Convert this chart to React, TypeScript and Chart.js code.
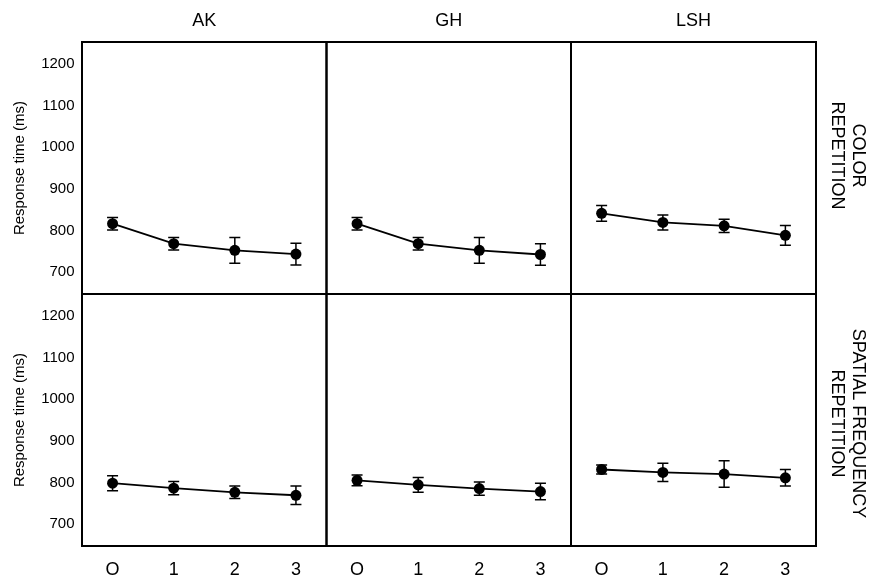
import React, { useEffect, useRef } from 'react';
import { Chart, registerables } from 'chart.js';

Chart.register(...registerables);

// ---------- data ----------
const CONDITIONS = ['O', '1', '2', '3'];
const SUBJECTS = ['AK', 'GH', 'LSH'];
const ROW_TITLES = [
  ['COLOR', 'REPETITION'],
  ['SPATIAL FREQUENCY', 'REPETITION'],
];
const Y_TICKS = [700, 800, 900, 1000, 1100, 1200];
const Y_TITLE = 'Response time (ms)';

const AK_COLOR_MEAN = [816, 768, 752, 743];
const AK_COLOR_ERR = [15, 15, 31, 26];
const GH_COLOR_MEAN = [816, 768, 752, 742];
const GH_COLOR_ERR = [15, 15, 31, 26];
const LSH_COLOR_MEAN = [841, 819, 811, 788];
const LSH_COLOR_ERR = [19, 18, 16, 24];

const AK_SF_MEAN = [798, 786, 776, 769];
const AK_SF_ERR = [18, 16, 15, 22];
const GH_SF_MEAN = [805, 794, 785, 778];
const GH_SF_ERR = [13, 18, 16, 20];
const LSH_SF_MEAN = [831, 824, 820, 811];
const LSH_SF_ERR = [11, 22, 32, 20];

const MEANS = [
  [AK_COLOR_MEAN, GH_COLOR_MEAN, LSH_COLOR_MEAN],
  [AK_SF_MEAN, GH_SF_MEAN, LSH_SF_MEAN],
];
const ERRS = [
  [AK_COLOR_ERR, GH_COLOR_ERR, LSH_COLOR_ERR],
  [AK_SF_ERR, GH_SF_ERR, LSH_SF_ERR],
];

// ---------- layout / style ----------
const W = 869;
const H = 576;
const COL_X = [82, 326.5, 571, 816];
const ROW_Y = [42, 294, 546];
const Y_MIN = 647;
const Y_MAX = 1253;
const FONT = "'Liberation Sans', Arial, Helvetica, sans-serif";
const ROW_LABEL_SHIFT = [-12.5, 3.5];

function buildConfig(r: number, c: number): any {
  const mean = MEANS[r][c];
  const err = ERRS[r][c];
  const isLeft = c === 0;
  const isTop = r === 0;
  const isBottom = r === 1;
  const isRight = c === 2;

  const panelPlugin = {
    id: 'panelDecor' + r + c,
    beforeDatasetsDraw(chart: any) {
      const { ctx, scales } = chart;
      const xs = scales.x;
      const ys = scales.y;
      ctx.save();
      ctx.strokeStyle = '#000';
      ctx.lineWidth = 1.5;
      mean.forEach((m: number, i: number) => {
        const px = xs.getPixelForValue(i);
        const top = ys.getPixelForValue(m + err[i]);
        const bot = ys.getPixelForValue(m - err[i]);
        ctx.beginPath();
        ctx.moveTo(px, top);
        ctx.lineTo(px, bot);
        ctx.moveTo(px - 5.5, top);
        ctx.lineTo(px + 5.5, top);
        ctx.moveTo(px - 5.5, bot);
        ctx.lineTo(px + 5.5, bot);
        ctx.stroke();
      });
      ctx.restore();
    },
    afterDraw(chart: any) {
      const { ctx, chartArea: a } = chart;
      ctx.save();
      ctx.strokeStyle = '#000';
      ctx.lineWidth = 2;
      ctx.strokeRect(a.left, a.top, a.right - a.left, a.bottom - a.top);
      if (isRight) {
        ctx.fillStyle = '#000';
        ctx.font = `18px ${FONT}`;
        ctx.textAlign = 'center';
        ctx.textBaseline = 'middle';
        const cy = (a.top + a.bottom) / 2 + ROW_LABEL_SHIFT[r];
        ROW_TITLES[r].forEach((t, i) => {
          ctx.save();
          ctx.translate(a.right + 41.7 - i * 21, cy);
          ctx.rotate(Math.PI / 2);
          ctx.fillText(t, 0, 0);
          ctx.restore();
        });
      }
      ctx.restore();
    },
  };

  const scales: any = {
    x: {
      type: 'category',
      labels: CONDITIONS,
      offset: true,
      position: 'bottom',
      display: isBottom,
      grid: { display: false, drawTicks: false, tickLength: 0 },
      border: { display: false },
      ticks: {
        color: '#000',
        font: { family: FONT, size: 18 },
        padding: 13,
        maxRotation: 0,
        autoSkip: false,
      },
    },
    y: {
      type: 'linear',
      position: 'left',
      min: Y_MIN,
      max: Y_MAX,
      display: isLeft,
      grid: { display: false, drawTicks: false, tickLength: 0 },
      border: { display: false },
      afterBuildTicks: (s: any) => {
        s.ticks = Y_TICKS.map((v) => ({ value: v }));
      },
      ticks: {
        color: '#000',
        font: { family: FONT, size: 15 },
        padding: 7.5,
        callback: (v: any) => String(v),
      },
      title: {
        display: true,
        text: Y_TITLE,
        color: '#000',
        font: { family: FONT, size: 15 },
        padding: { top: 11, bottom: 0 },
      },
    },
  };
  if (isBottom) {
    scales.x.afterFit = (s: any) => {
      s.height = H - ROW_Y[2];
    };
  }
  if (isLeft) {
    scales.y.afterFit = (s: any) => {
      s.width = COL_X[0];
    };
  }
  if (isTop) {
    scales.xTop = {
      type: 'category',
      axis: 'x',
      labels: CONDITIONS,
      offset: true,
      position: 'top',
      display: true,
      grid: { display: false, drawTicks: false, tickLength: 0 },
      border: { display: false },
      ticks: { display: false },
      title: {
        display: true,
        text: SUBJECTS[c],
        color: '#000',
        font: { family: FONT, size: 18 },
        padding: { top: 10, bottom: 0 },
      },
      afterFit: (s: any) => {
        s.height = ROW_Y[0];
      },
    };
  }

  return {
    type: 'line',
    data: {
      labels: CONDITIONS,
      datasets: [
        {
          data: mean,
          xAxisID: 'x',
          yAxisID: 'y',
          borderColor: '#000',
          borderWidth: 1.8,
          pointRadius: 5.5,
          pointBackgroundColor: '#000',
          pointBorderColor: '#000',
          pointBorderWidth: 0,
          tension: 0,
          fill: false,
          clip: false,
        },
      ],
    },
    options: {
      animation: false,
      responsive: false,
      events: [],
      layout: {
        padding: {
          left: isLeft ? 0 : COL_X[c],
          right: W - COL_X[c + 1],
          top: isTop ? 0 : ROW_Y[r],
          bottom: isBottom ? 0 : H - ROW_Y[r + 1],
        },
      },
      plugins: {
        legend: { display: false },
        tooltip: { enabled: false },
        title: { display: false },
      },
      scales,
    },
    plugins: [panelPlugin],
  };
}

const PANELS = [0, 1].flatMap((r) => [0, 1, 2].map((c) => ({ r, c })));

export default function App() {
  const refs = useRef<(HTMLCanvasElement | null)[]>([]);

  useEffect(() => {
    const charts: Chart[] = [];
    PANELS.forEach((p, i) => {
      const cv = refs.current[i];
      if (cv) charts.push(new Chart(cv, buildConfig(p.r, p.c)));
    });
    return () => {
      charts.forEach((ch) => ch.destroy());
    };
  }, []);

  return (
    <div
      style={{
        position: 'absolute',
        left: 0,
        top: 0,
        width: W,
        height: H,
        background: '#fff',
        overflow: 'hidden',
      }}
    >
      {PANELS.map((p, i) => (
        <canvas
          key={i}
          ref={(el) => {
            refs.current[i] = el;
          }}
          width={W}
          height={H}
          style={{ position: 'absolute', left: 0, top: 0, width: W, height: H }}
        />
      ))}
    </div>
  );
}
